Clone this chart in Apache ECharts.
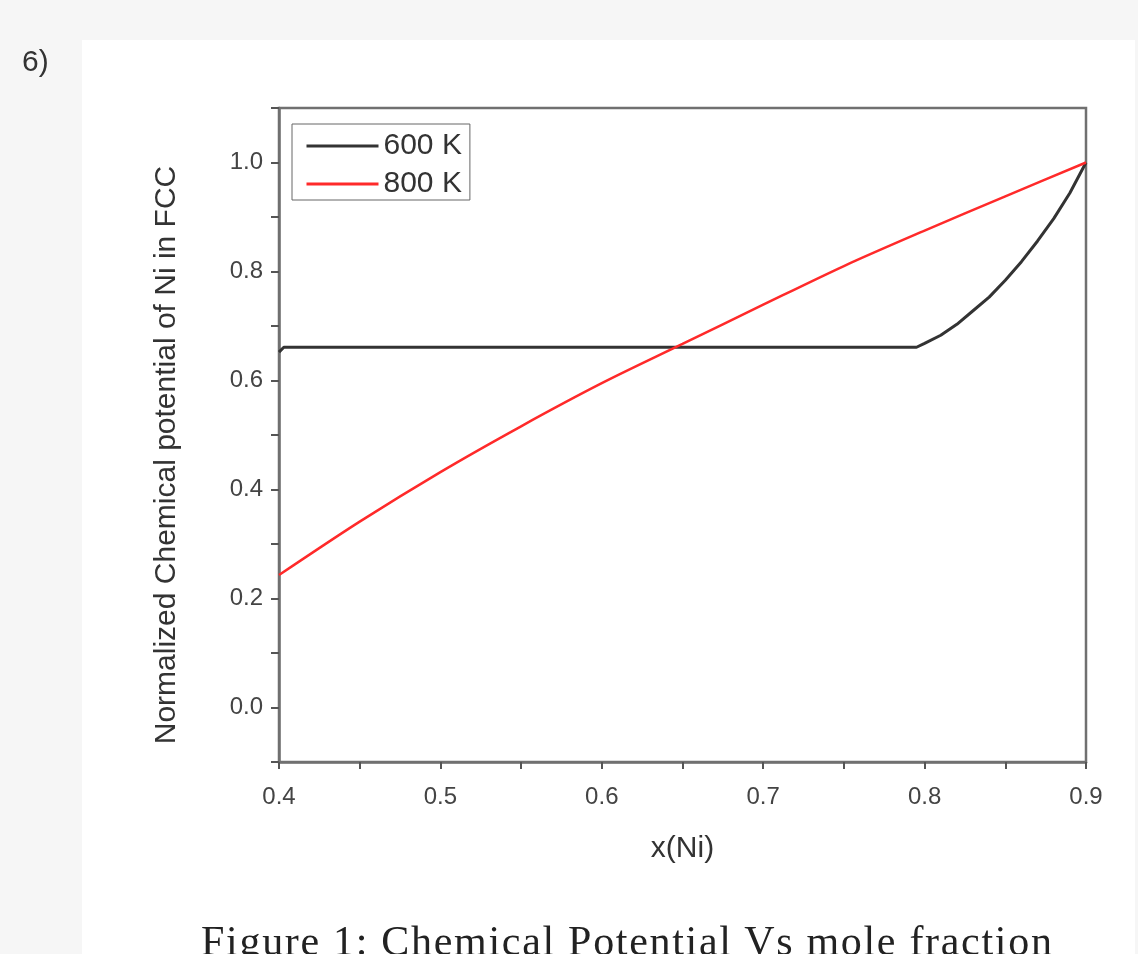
<!DOCTYPE html>
<html>
<head>
<meta charset="utf-8">
<script src="https://cdn.jsdelivr.net/npm/echarts@6/dist/echarts.min.js"></script>
<style>
html,body{margin:0;padding:0;background:#f6f6f6;overflow:hidden;}
#wrap{position:relative;width:1138px;height:954px;}
#c{width:1138px;height:954px;}
#cap{position:absolute;left:201px;top:917px;font:42px "Liberation Serif",serif;color:#222;letter-spacing:1.7px;white-space:nowrap;}
</style>
</head>
<body>
<div id="wrap"><div id="c"></div><div id="cap"></div></div>
<script>
// Data
const seriesNames = ['600 K', '800 K'];
const blackX = [0.400, 0.403, 0.45, 0.50, 0.55, 0.60, 0.65, 0.70, 0.75, 0.795, 0.800, 0.810, 0.820, 0.830, 0.840, 0.850, 0.860, 0.870, 0.880, 0.890, 0.900];
const blackY = [0.652, 0.661, 0.661, 0.661, 0.661, 0.661, 0.661, 0.661, 0.661, 0.661, 0.668, 0.683, 0.703, 0.728, 0.753, 0.784, 0.818, 0.856, 0.897, 0.944, 1.000];
const redX = [0.40, 0.45, 0.50, 0.55, 0.60, 0.65, 0.70, 0.75, 0.80, 0.85, 0.90];
const redY = [0.243, 0.341, 0.432, 0.516, 0.595, 0.667, 0.739, 0.810, 0.875, 0.938, 1.000];
const xTitle = 'x(Ni)';
const yTitle = 'Normalized Chemical potential of Ni in FCC';
const caption = 'Figure 1: Chemical Potential Vs mole fraction';
const panelLabel = '6)';

document.getElementById('cap').textContent = caption;
const pair = (xs, ys) => xs.map((x, i) => [x, ys[i]]);
const chart = echarts.init(document.getElementById('c'), null, {renderer: 'canvas'});
const axisCol = '#707070';
const txtCol = '#333';
const sans = 'Liberation Sans, Arial, sans-serif';

chart.setOption({
  backgroundColor: '#f6f6f6',
  animation: false,
  graphic: [
    {type: 'rect', left: 82, top: 40, shape: {width: 1053, height: 930}, style: {fill: '#ffffff'}, z: -10},
    {type: 'text', left: 22, top: 48, style: {text: panelLabel, font: '30px Liberation Sans, Arial', fill: '#333'}},
    {type: 'text', x: 152, y: 455, rotation: Math.PI / 2, style: {text: yTitle, font: '30px Liberation Sans, Arial', fill: txtCol, align: 'center', verticalAlign: 'top'}}
  ],
  grid: {left: 279, right: 52, top: 108, bottom: 192, show: true, borderColor: axisCol, borderWidth: 2.5, backgroundColor: 'transparent'},
  legend: {
    orient: 'vertical', left: 292, top: 124,
    data: seriesNames,
    backgroundColor: '#fff', borderColor: '#666', borderWidth: 1,
    padding: [7, 8, 1, 13], itemGap: 8,
    itemWidth: 72, itemHeight: 14,
    itemStyle: {opacity: 0},
    lineStyle: {width: 3},
    textStyle: {fontFamily: sans, fontSize: 30, color: txtCol}
  },
  xAxis: {
    type: 'value', min: 0.4, max: 0.9, interval: 0.05,
    name: xTitle, nameLocation: 'middle', nameGap: 72,
    nameTextStyle: {fontFamily: sans, fontSize: 30, color: txtCol},
    axisLine: {show: true, onZero: false, lineStyle: {color: axisCol, width: 2.5}},
    axisTick: {show: true, length: 7, lineStyle: {color: '#555', width: 2}},
    axisLabel: {margin: 23, fontFamily: sans, fontSize: 24, color: '#444',
      formatter: v => (Math.round(v * 20) % 2 === 0) ? v.toFixed(1) : ''},
    splitLine: {show: false}
  },
  yAxis: {
    type: 'value', min: -0.1, max: 1.1, interval: 0.1,
    axisLine: {show: true, onZero: false, lineStyle: {color: axisCol, width: 2.5}},
    axisTick: {show: true, length: 8, lineStyle: {color: '#555', width: 2}},
    axisLabel: {margin: 16, fontFamily: sans, fontSize: 24, color: '#444',
      formatter: v => (Math.round(v * 10) % 2 === 0) ? v.toFixed(1) : ''},
    splitLine: {show: false}
  },
  series: [
    {name: seriesNames[0], type: 'line', data: pair(blackX, blackY), symbol: 'none', smooth: false,
     lineStyle: {color: '#333333', width: 3}, itemStyle: {color: '#333333'}},
    {name: seriesNames[1], type: 'line', data: pair(redX, redY), symbol: 'none', smooth: 0.3,
     lineStyle: {color: '#ff2a2a', width: 2.5}, itemStyle: {color: '#ff2a2a'}}
  ]
});
</script>
</body>
</html>
